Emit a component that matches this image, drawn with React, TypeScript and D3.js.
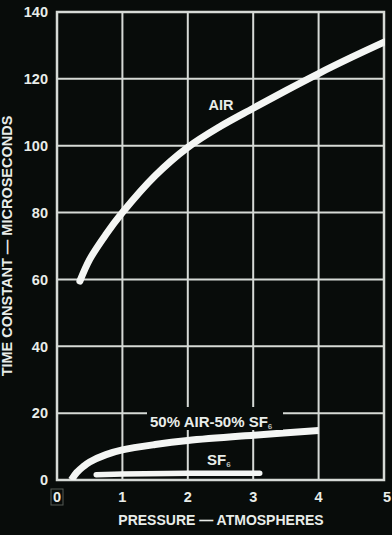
import React from "react";
import * as d3 from "d3";

// Time constant vs. pressure for three gas fills
const airPressure = [0.35, 0.5, 0.75, 1, 1.5, 2, 2.5, 3, 3.5, 4, 4.5, 5];
const airTime = [59.5, 66, 73.5, 80, 91, 99.5, 105.8, 111.2, 116.5, 121.6, 126.4, 131];

const mixPressure = [0.22, 0.3, 0.4, 0.5, 0.75, 1, 1.5, 2, 3, 4];
const mixTime = [0, 2.2, 4, 5.4, 7.6, 9, 10.6, 11.8, 13.4, 14.8];

const sf6Pressure = [0.6, 1, 2, 3.1];
const sf6Time = [1.6, 1.8, 2, 2];

const xTicks = [0, 1, 2, 3, 4, 5];
const yTicks = [0, 20, 40, 60, 80, 100, 120, 140];

const W = 392;
const H = 535;
const M = { left: 57, right: 384, top: 12, bottom: 480 };

const FG = "#e9ede9";
const GRID = "#d6dad6";
const BG = "#080c0a";
const INK = "#f4f6f4";
const FONT = "'Liberation Sans', Arial, sans-serif";

export default function App() {
  const x = d3.scaleLinear().domain([0, 5]).range([M.left, M.right]);
  const y = d3.scaleLinear().domain([0, 140]).range([M.bottom, M.top]);

  const line = d3
    .line<[number, number]>()
    .x((d) => x(d[0]))
    .y((d) => y(d[1]))
    .curve(d3.curveCatmullRom.alpha(0.5));

  const zip = (a: number[], b: number[]) => a.map((v, i) => [v, b[i]] as [number, number]);

  return (
    <svg
      width={W}
      height={H}
      style={{ position: "fixed", left: 0, top: 0, background: BG }}
    >
      <defs>
        <clipPath id="plotClip">
          <rect x={0} y={0} width={M.right + 1} height={M.bottom} />
        </clipPath>
      </defs>
      <rect x={0} y={0} width={W} height={H} fill={BG} />

      {/* grid */}
      {xTicks.slice(1, -1).map((t) => (
        <line key={"gx" + t} x1={x(t)} x2={x(t)} y1={y(140)} y2={y(0)} stroke={GRID} strokeWidth={2} />
      ))}
      {yTicks.slice(1, -1).map((t) => (
        <line key={"gy" + t} x1={x(0)} x2={x(5)} y1={y(t)} y2={y(t)} stroke={GRID} strokeWidth={2} />
      ))}
      <rect
        x={x(0)}
        y={y(140)}
        width={x(5) - x(0)}
        height={y(0) - y(140)}
        fill="none"
        stroke={GRID}
        strokeWidth={2.5}
      />

      {/* curves */}
      <g clipPath="url(#plotClip)">
        <path
          d={line(zip(airPressure, airTime)) || ""}
          fill="none"
          stroke={INK}
          strokeWidth={7}
          strokeLinecap="round"
        />
        <path
          d={line(zip(mixPressure, mixTime)) || ""}
          fill="none"
          stroke={INK}
          strokeWidth={7}
          strokeLinecap="butt"
        />
        <path
          d={line(zip(sf6Pressure, sf6Time)) || ""}
          fill="none"
          stroke={INK}
          strokeWidth={5.5}
          strokeLinecap="round"
        />
      </g>

      {/* series labels */}
      <g fontFamily={FONT} fontWeight="bold" fill={FG}>
        <text x={221} y={110} fontSize={14.5} textAnchor="middle">AIR</text>

        <rect x={147} y={407} width={136} height={23} fill={BG} />
        <text x={150} y={427} fontSize={15}>
          50% AIR-50% SF
          <tspan fontSize={8} dy={2} fill="#b8bcb8">6</tspan>
        </text>

        <text x={207} y={465} fontSize={15}>
          SF
          <tspan fontSize={8} dy={2} fill="#b8bcb8">6</tspan>
        </text>
      </g>

      {/* axes labels */}
      <g fontFamily={FONT} fontWeight="bold" fill={FG} fontSize={14.5}>
        {yTicks.map((t) => (
          <text key={"yt" + t} x={48} y={y(t)} dy="0.36em" textAnchor="end">
            {t}
          </text>
        ))}
        {xTicks.map((t) => (
          <text key={"xt" + t} x={x(t) + (t === 5 ? 3 : 0)} y={502} textAnchor="middle">
            {t}
          </text>
        ))}
        <rect x={x(0) - 6} y={489} width={12} height={16} fill="none" stroke="#555a55" strokeWidth={1} />
        <text x={221} y={525} fontSize={14} textAnchor="middle">
          PRESSURE — ATMOSPHERES
        </text>
        <text
          transform={`translate(12, ${246}) rotate(-90)`}
          textAnchor="middle"
          fontSize={14.5}
        >
          TIME CONSTANT — MICROSECONDS
        </text>
      </g>
    </svg>
  );
}
